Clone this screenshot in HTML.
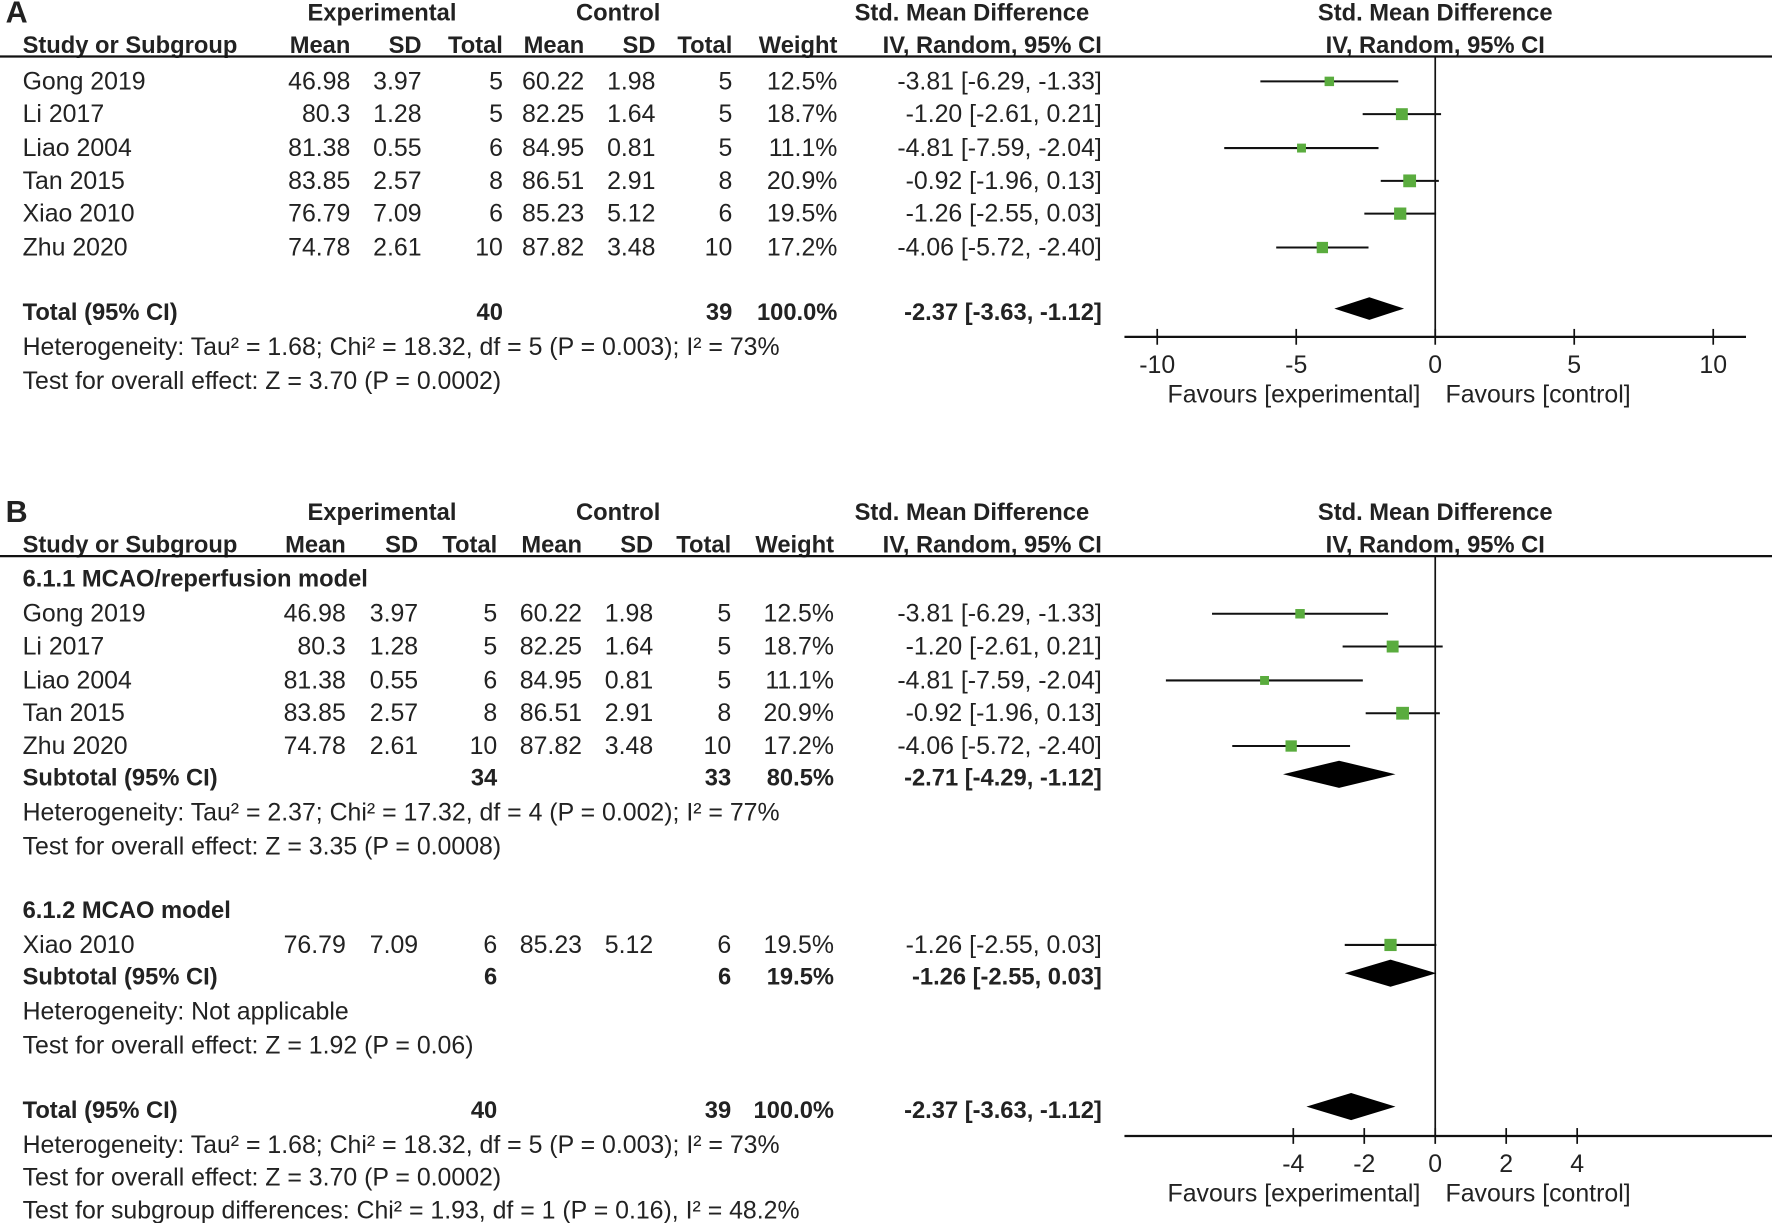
<!DOCTYPE html>
<html><head><meta charset="utf-8"><style>
html,body{margin:0;padding:0;background:#fff;}
svg{display:block;}
text{font-family:"Liberation Sans",Arial,sans-serif;fill:#222;font-size:22px;}
.b{font-weight:bold;font-size:21px;}
</style></head>
<body>
<svg id="fig" width="1772" height="1223" viewBox="0 0 1568 1082" preserveAspectRatio="none" xmlns="http://www.w3.org/2000/svg"></svg>
<script>
// ---- data ----
const studiesA = ["Gong 2019","Li 2017","Liao 2004","Tan 2015","Xiao 2010","Zhu 2020"];
const expMeanA = ["46.98","80.3","81.38","83.85","76.79","74.78"];
const expSdA = ["3.97","1.28","0.55","2.57","7.09","2.61"];
const expNA = ["5","5","6","8","6","10"];
const ctlMeanA = ["60.22","82.25","84.95","86.51","85.23","87.82"];
const ctlSdA = ["1.98","1.64","0.81","2.91","5.12","3.48"];
const ctlNA = ["5","5","5","8","6","10"];
const weightA = [12.5,18.7,11.1,20.9,19.5,17.2];
const smdA = [-3.81,-1.20,-4.81,-0.92,-1.26,-4.06];
const lowA = [-6.29,-2.61,-7.59,-1.96,-2.55,-5.72];
const highA = [-1.33,0.21,-2.04,0.13,0.03,-2.40];
const totalEst = [-2.37,-3.63,-1.12];
const sub1Est = [-2.71,-4.29,-1.12];
const sub2Est = [-1.26,-2.55,0.03];
const ticksA = [-10,-5,0,5,10];
const ticksB = [-4,-2,0,2,4];
const groupB1 = [0,1,2,3,5]; // indices into study arrays
const groupB2 = [4];

const svg = document.getElementById('fig');
const NS = "http://www.w3.org/2000/svg";
function el(tag, attrs, parent){const e=document.createElementNS(NS,tag);for(const k in attrs)e.setAttribute(k,attrs[k]);(parent||svg).appendChild(e);return e;}
function txt(s,x,y,anchor,bold,name,size){
  const t=el('text',{x:x,y:y,'text-anchor':anchor||'start'});
  if(bold)t.setAttribute('class','b');
  if(size)t.style.fontSize=size+'px';
  t.textContent=s;
  
  
  return t;
}
const fmt=v=>v.toFixed(2);
const ciStr=(e,l,h)=>fmt(e)+" ["+fmt(l)+", "+fmt(h)+"]";

function panel(opt){
  const C=opt.cols;
  txt(opt.letter,5,opt.hy1+2,'start',true,'panel-letter',27);
  txt("Experimental",338,opt.hy1,'middle',true,'experimental-header');
  txt("Control",547,opt.hy1,'middle',true,'control-header');
  txt("Std. Mean Difference",860,opt.hy1,'middle',true,'smd-header');
  txt("Std. Mean Difference",1270,opt.hy1,'middle',true,'plot-header');
  const y2=opt.hy1+29;
  txt("Study or Subgroup",20,y2,'start',true,'study-column-header');
  ["Mean","SD","Total","Mean","SD","Total","Weight"].forEach((h,i)=>txt(h,C[i],y2,'end',true,'column-header'));
  txt("IV, Random, 95% CI",975,y2,'end',true,'ci-column-header');
  txt("IV, Random, 95% CI",1270,y2,'middle',true,'plot-subheader');
  el('line',{x1:0,x2:1568,y1:y2+3,y2:y2+3,stroke:'#111','stroke-width':2});
  return y2+3;
}

function forest(o){
  const X=v=>o.x0+v*o.unit;
  el('line',{x1:X(0),x2:X(0),y1:o.top,y2:o.axisY,stroke:'#111','stroke-width':1.5});
  const ax=el('line',{x1:o.axL,x2:o.axR,y1:o.axisY,y2:o.axisY,stroke:'#111','stroke-width':2});
  
  o.ticks.forEach(t=>{
    el('line',{x1:X(t),x2:X(t),y1:o.axisY-7,y2:o.axisY+7,stroke:'#111','stroke-width':1.5});
    txt(String(t),X(t),o.axisY+32,'middle',false,'x-tick-label');
  });
  txt("Favours [experimental]",1145,o.axisY+58,'middle',false,'favours-experimental');
  txt("Favours [control]",1361,o.axisY+58,'middle',false,'favours-control');
  return X;
}
function studyMark(X,i,cy){
  const l=el('line',{x1:X(lowA[i]),x2:X(highA[i]),y1:cy,y2:cy,stroke:'#111','stroke-width':1.8});
  
  const s=4+weightA[i]*0.35;
  const r=el('rect',{x:X(smdA[i])-s/2,y:cy-s/2,width:s,height:s,fill:'#5aac3e'});
  
  
}
function diamond(X,e,cy,h){
  const p=el('polygon',{points:`${X(e[1])},${cy} ${X(e[0])},${cy-h} ${X(e[2])},${cy} ${X(e[0])},${cy+h}`,fill:'#000'});
  
  
}
function row(i,y,C,X){
  txt(studiesA[i],20,y,'start',false,'study-name');
  [expMeanA[i],expSdA[i],expNA[i],ctlMeanA[i],ctlSdA[i],ctlNA[i],weightA[i].toFixed(1)+"%"].forEach((v,k)=>txt(v,C[k],y,'end',false,'cell'));
  txt(ciStr(smdA[i],lowA[i],highA[i]),975,y,'end',false,'study-ci');
  studyMark(X,i,y-7);
}
function totalRow(label,nE,nC,w,e,y,C,X,h){
  txt(label,20,y,'start',true,'total-label');
  txt(nE,C[2],y,'end',true,'total-exp-n');
  txt(nC,C[5],y,'end',true,'total-ctl-n');
  txt(w,C[6],y,'end',true,'total-weight');
  txt(ciStr(e[0],e[1],e[2]),975,y,'end',true,'total-ci');
  diamond(X,e,y-10,h);
}

// ---- Panel A ----
const CA=[310,373,445,517,580,648,741];
const topA=panel({letter:"A",hy1:18,cols:CA});
const XA=forest({x0:1270,unit:24.6,top:topA,axisY:298,axL:995,axR:1545,ticks:ticksA});
const rowYA=[79,108,138,167,196,226];
studiesA.forEach((s,i)=>row(i,rowYA[i],CA,XA));
totalRow("Total (95% CI)","40","39","100.0%",totalEst,283,CA,XA,10);
txt("Heterogeneity: Tau² = 1.68; Chi² = 18.32, df = 5 (P = 0.003); I² = 73%",20,314,'start',false,'heterogeneity-a');
txt("Test for overall effect: Z = 3.70 (P = 0.0002)",20,344,'start',false,'overall-effect-a');

// ---- Panel B ----
const CB=[306,370,440,515,578,647,738];
const topB=panel({letter:"B",hy1:460,cols:CB});
const XB=forest({x0:1270,unit:31.4,top:topB,axisY:1005,axL:995,axR:1568,ticks:ticksB});
txt("6.1.1 MCAO/reperfusion model",20,519,'start',true,'subgroup-1-title');
const rowYB1=[550,579,609,638,667];
groupB1.forEach((idx,k)=>row(idx,rowYB1[k],CB,XB));
totalRow("Subtotal (95% CI)","34","33","80.5%",sub1Est,695,CB,XB,12);
txt("Heterogeneity: Tau² = 2.37; Chi² = 17.32, df = 4 (P = 0.002); I² = 77%",20,726,'start',false,'heterogeneity-sub1');
txt("Test for overall effect: Z = 3.35 (P = 0.0008)",20,756,'start',false,'overall-effect-sub1');
txt("6.1.2 MCAO model",20,812,'start',true,'subgroup-2-title');
groupB2.forEach((idx,k)=>row(idx,843,CB,XB));
totalRow("Subtotal (95% CI)","6","6","19.5%",sub2Est,871,CB,XB,12);
txt("Heterogeneity: Not applicable",20,902,'start',false,'heterogeneity-sub2');
txt("Test for overall effect: Z = 1.92 (P = 0.06)",20,932,'start',false,'overall-effect-sub2');
totalRow("Total (95% CI)","40","39","100.0%",totalEst,989,CB,XB,12);
txt("Heterogeneity: Tau² = 1.68; Chi² = 18.32, df = 5 (P = 0.003); I² = 73%",20,1020,'start',false,'heterogeneity-b');
txt("Test for overall effect: Z = 3.70 (P = 0.0002)",20,1049,'start',false,'overall-effect-b');
txt("Test for subgroup differences: Chi² = 1.93, df = 1 (P = 0.16), I² = 48.2%",20,1078,'start',false,'subgroup-differences');
</script>
</body></html>
